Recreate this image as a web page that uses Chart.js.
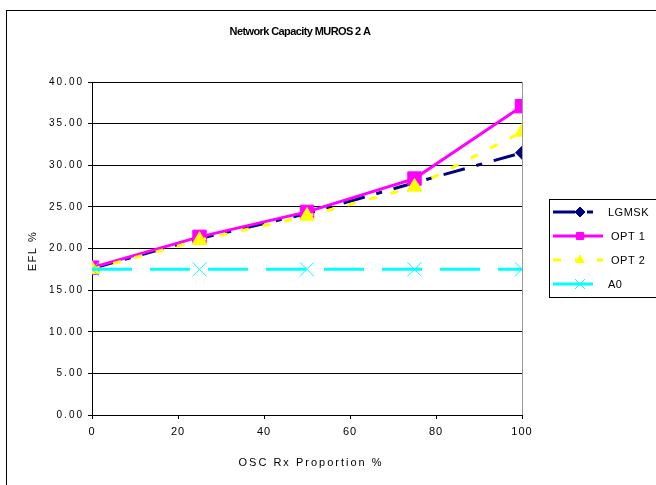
<!DOCTYPE html>
<html>
<head>
<meta charset="utf-8">
<script src="https://cdn.jsdelivr.net/npm/chart.js@4.4.0/dist/chart.umd.min.js"></script>
<style>
html,body{margin:0;padding:0;background:#fff;}
#wrap{width:656px;height:485px;position:relative;}
</style>
</head>
<body>
<div id="wrap"><canvas id="c" width="656" height="485"></canvas></div>
<script>
const chartTitle = 'Network Capacity MUROS 2 A';
const xTitle = 'OSC Rx Proportion %';
const yTitle = 'EFL %';
const xValues = [0, 25, 50, 75, 100];
const seriesNames = ['LGMSK', 'OPT 1', 'OPT 2', 'A0'];
const lgmsk = [17.6, 21.2, 24.2, 27.9, 31.5];
const opt1  = [17.7, 21.4, 24.4, 28.4, 37.1];
const opt2  = [17.5, 21.0, 23.9, 27.4, 34.0];
const a0    = [17.5, 17.5, 17.5, 17.5, 17.5];

const FONT = '"Liberation Sans", Arial, sans-serif';
const toPts = arr => arr.map((v, i) => ({x: xValues[i], y: v}));

const datasets = [
  {label: seriesNames[0], data: toPts(lgmsk), borderColor:'#000080', backgroundColor:'#000080',
   borderWidth:3, borderDash:[22,12,6,12], pointStyle:'rectRot', pointRadius:6.5, pointBorderWidth:1, order:4, legendR:5},
  {label: seriesNames[1], data: toPts(opt1), borderColor:'#FF00FF', backgroundColor:'#FF00FF',
   borderWidth:3, pointStyle:'rect', pointRadius:9.5, pointBorderWidth:1, order:3, legendR:5},
  {label: seriesNames[2], data: toPts(opt2), borderColor:'#FFFF00', backgroundColor:'#FFFF00',
   borderWidth:3, borderDash:[8,14], pointStyle:'triangle', pointRadius:8.5, pointBorderWidth:1, order:2, legendR:5},
  {label: seriesNames[3], data: toPts(a0), borderColor:'#00FFFF', backgroundColor:'#00FFFF',
   borderWidth:3, borderDash:[40,18], pointStyle:'crossRot', pointRadius:10, pointBorderWidth:1, order:1, legendR:7}
];
datasets.forEach(d => { d.fill = false; d.tension = 0; d.pointBorderColor = d.borderColor; });

function patchScale(scale, spacing) {
  if (!scale || scale._lsPatched) return;
  const orig = scale.drawLabels;
  scale.drawLabels = function(area) {
    const ctx = this.ctx;
    const prev = ctx.letterSpacing;
    ctx.letterSpacing = spacing;
    orig.call(this, area);
    ctx.letterSpacing = prev || '0px';
  };
  scale._lsPatched = true;
}

function spacedText(ctx, text, x, y, spacing) {
  ctx.letterSpacing = spacing;
  ctx.fillText(text, x, y);
  ctx.letterSpacing = '0px';
}

const decor = {
  id: 'decor',
  beforeDraw(chart) {
    patchScale(chart.scales.x, '1px');
    patchScale(chart.scales.y, '2px');
    const ctx = chart.ctx;
    ctx.save();
    ctx.fillStyle = '#fff';
    ctx.fillRect(0, 0, chart.width, chart.height);
    ctx.strokeStyle = '#000';
    ctx.lineWidth = 1;
    ctx.strokeRect(6.5, 10.5, 700, 600);
    ctx.restore();
  },
  afterDatasetsDraw(chart) {
    const ctx = chart.ctx;
    const a = chart.chartArea;
    ctx.save();
    // right border of plot area
    ctx.strokeStyle = '#999';
    ctx.lineWidth = 1;
    ctx.beginPath();
    ctx.moveTo(Math.round(a.right) + 0.5, a.top);
    ctx.lineTo(Math.round(a.right) + 0.5, a.bottom);
    ctx.stroke();
    // title
    ctx.fillStyle = '#000';
    ctx.font = 'bold 11px ' + FONT;
    ctx.textAlign = 'center';
    ctx.textBaseline = 'middle';
    spacedText(ctx, chartTitle, 300, 32, '-0.6px');
    // axis titles
    ctx.font = '11px ' + FONT;
    spacedText(ctx, xTitle, 311, 463, '2px');
    ctx.save();
    ctx.translate(33, 251);
    ctx.rotate(-Math.PI / 2);
    spacedText(ctx, yTitle, 0, 0, '1.5px');
    ctx.restore();
    // legend
    ctx.strokeStyle = '#000';
    ctx.lineWidth = 1;
    ctx.strokeRect(549.5, 199.5, 200, 98);
    const ys = [212, 236, 260, 284];
    chart.data.datasets.forEach((ds, k) => {
      const y = ys[k];
      ctx.save();
      ctx.strokeStyle = ds.borderColor;
      ctx.lineWidth = ds.borderWidth;
      ctx.setLineDash(ds.borderDash || []);
      ctx.beginPath();
      ctx.moveTo(553, y);
      ctx.lineTo(603, y);
      ctx.stroke();
      ctx.restore();
      ctx.save();
      ctx.fillStyle = ds.backgroundColor;
      ctx.strokeStyle = ds.borderColor;
      ctx.lineWidth = 1;
      Chart.helpers.drawPoint(ctx, {
        pointStyle: ds.pointStyle, radius: ds.legendR, rotation: 0, borderWidth: 1
      }, 580, y);
      ctx.restore();
      ctx.fillStyle = '#000';
      ctx.font = '11px ' + FONT;
      ctx.textAlign = 'left';
      ctx.textBaseline = 'middle';
      spacedText(ctx, ds.label, k === 0 || k === 3 ? 608 : 611, y + 1, '0.5px');
    });
    ctx.restore();
  }
};

new Chart(document.getElementById('c'), {
  type: 'line',
  data: { datasets },
  options: {
    responsive: false,
    animation: false,
    layout: { padding: { left: 0, top: 82, right: 134, bottom: 0 } },
    plugins: { legend: { display: false }, title: { display: false }, tooltip: { enabled: false } },
    scales: {
      x: {
        type: 'linear', min: 0, max: 100,
        ticks: { stepSize: 20, color: '#000', font: { family: FONT, size: 11 }, padding: 6, maxRotation: 0 },
        grid: { drawOnChartArea: false, drawTicks: true, tickLength: 4, color: '#000' },
        border: { display: true, color: '#000', width: 1 },
        afterFit(s) { s.height = 70; }
      },
      y: {
        min: 0, max: 40,
        ticks: { stepSize: 5, color: '#000', font: { family: FONT, size: 10 }, padding: 4,
                 callback: v => Number(v).toFixed(2) },
        grid: { color: '#000', lineWidth: 1, drawTicks: true, tickLength: 4 },
        border: { display: true, color: '#000', width: 1 },
        afterFit(s) { s.width = 92; }
      }
    }
  },
  plugins: [decor]
});
</script>
</body>
</html>
